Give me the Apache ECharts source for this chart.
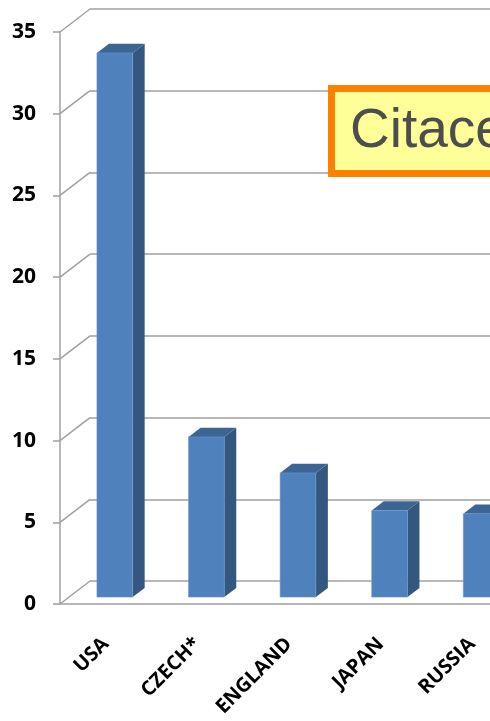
<!DOCTYPE html>
<html>
<head>
<meta charset="utf-8">
<script src="https://cdn.jsdelivr.net/npm/echarts@6/dist/echarts.min.js"></script>
<style>
  html, body { margin: 0; padding: 0; background: #fff; }
  #chart { width: 490px; height: 721px; }
</style>
</head>
<body>
<div id="chart"></div>
<script>
const countries = ["USA", "CZECH*", "ENGLAND", "JAPAN", "RUSSIA"];
const citations = [33.3, 9.8, 7.6, 5.3, 5.1];
const yTicks = [0, 5, 10, 15, 20, 25, 30, 35];
const boxText = "Citace";

// fake 3d: wall depth in px, bars sit between 30% and 70% of it
const DEPTH_X = 30;
const DEPTH_Y = 23;
const FRONT = "#4F81BD";
const SIDE = "#34577F";
const TOP = "#3D6594";
const LINE = "#A0A0A0";

const chart = echarts.init(document.getElementById("chart"));

function renderBar(params, api) {
  const base = api.coord([api.value(0), 0]);
  const top = api.coord([api.value(0), api.value(1)]);
  const band = api.size([1, 0])[0];
  const w = band * 0.39;
  const x0 = base[0] - w / 2 + DEPTH_X * 0.3;
  const x1 = x0 + w;
  const yb = base[1] - DEPTH_Y * 0.3;
  const yt = top[1] - DEPTH_Y * 0.3;
  const dx = DEPTH_X * 0.4;
  const dy = DEPTH_Y * 0.4;
  return {
    type: "group",
    children: [
      { type: "polygon", shape: { points: [[x1, yt], [x1 + dx, yt - dy], [x1 + dx, yb - dy], [x1, yb]] }, style: { fill: SIDE } },
      { type: "polygon", shape: { points: [[x0, yt], [x0 + dx, yt - dy], [x1 + dx, yt - dy], [x1, yt]] }, style: { fill: TOP } },
      { type: "rect", shape: { x: x0, y: yt, width: w, height: yb - yt }, style: { fill: FRONT, stroke: "#6C96CC", lineWidth: 0.6 } },
    ],
  };
}

// diagonal edges of the side wall, one per y tick
function renderEdge(params, api) {
  const p = api.coord([0, api.value(1)]);
  const left = p[0] - api.size([1, 0])[0] / 2;
  return {
    type: "line",
    shape: { x1: left, y1: p[1], x2: left + DEPTH_X, y2: p[1] - DEPTH_Y },
    style: { stroke: LINE, lineWidth: 1.5 },
  };
}

// the plot runs past the right edge of the picture
const frontGrid = { left: 60, width: 458, top: 32, bottom: 117, outerBoundsMode: "none" };

chart.setOption({
  animation: false,
  backgroundColor: "#fff",
  grid: [
    frontGrid,
    {
      left: frontGrid.left + DEPTH_X,
      width: frontGrid.width,
      top: frontGrid.top - DEPTH_Y,
      bottom: frontGrid.bottom + DEPTH_Y,
      outerBoundsMode: "none",
    },
  ],
  xAxis: [
    {
      type: "category",
      gridIndex: 0,
      data: countries,
      axisLine: { lineStyle: { color: LINE, width: 1.5 } },
      axisTick: { length: 8, lineStyle: { color: LINE, width: 1.5 } },
      axisLabel: {
        interval: 0,
        rotate: 45,
        margin: 37,
        color: "#000",
        fontFamily: "Open Sans",
        fontWeight: "bold",
        fontSize: 20,
      },
    },
    { type: "category", gridIndex: 1, data: countries, show: false },
  ],
  yAxis: [
    {
      type: "value",
      gridIndex: 0,
      min: 0,
      max: 35,
      interval: 5,
      axisLine: { show: true, lineStyle: { color: LINE, width: 1.5 } },
      axisTick: { show: true, length: 7, lineStyle: { color: LINE, width: 1.5 } },
      splitLine: { show: false },
      axisLabel: {
        margin: 24,
        color: "#000",
        fontFamily: "Open Sans",
        fontWeight: "bold",
        fontSize: 21,
      },
    },
    {
      type: "value",
      gridIndex: 1,
      min: 0,
      max: 35,
      interval: 5,
      axisLine: { show: false },
      axisTick: { show: false },
      axisLabel: { show: false },
      splitLine: { lineStyle: { color: LINE, width: 1.5 } },
    },
  ],
  series: [
    {
      type: "custom",
      xAxisIndex: 0,
      yAxisIndex: 0,
      renderItem: renderEdge,
      data: yTicks.map(v => [0, v]),
      silent: true,
      z: 1,
    },
    {
      type: "custom",
      xAxisIndex: 0,
      yAxisIndex: 0,
      renderItem: renderBar,
      data: citations.map((v, i) => [i, v]),
      clip: false,
      z: 3,
    },
  ],
  graphic: [
    {
      type: "rect",
      left: 328,
      top: 85,
      z: 10,
      shape: { width: 220, height: 85 },
      style: { fill: "#FFFF99", stroke: "#FF8000", lineWidth: 7 },
    },
    {
      type: "text",
      left: 350,
      top: 104,
      z: 11,
      style: {
        text: boxText,
        fill: "#4D4D4D",
        font: "55px 'Liberation Sans', Arial, sans-serif",
      },
    },
  ],
});
</script>
</body>
</html>
